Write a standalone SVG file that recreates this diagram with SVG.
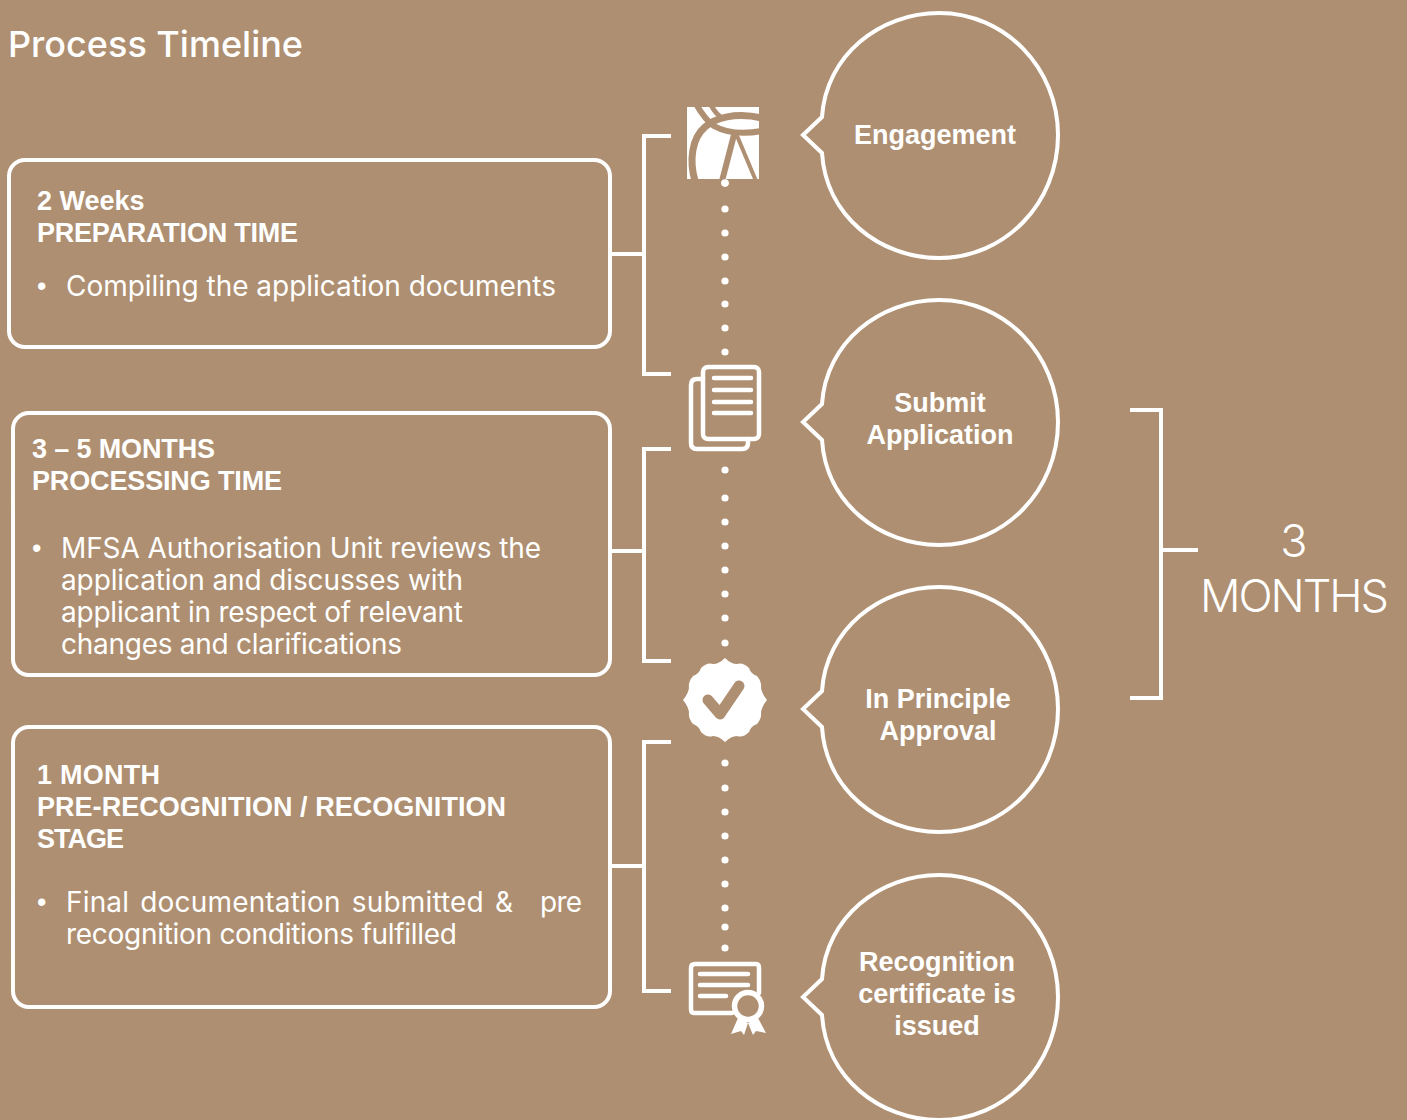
<svg xmlns="http://www.w3.org/2000/svg" width="1407" height="1120" viewBox="0 0 1407 1120">
<style>
text{font-family:"Liberation Sans",Arial,sans-serif;fill:#fff;font-size:27px}
.r{font-family:Inter,"Liberation Sans",Arial,sans-serif;font-size:28px;font-weight:400}
.b{font-weight:700}
.m{text-anchor:middle}
.box,.bub,.ln{fill:none;stroke:#fff;stroke-width:4}
.ic{fill:none;stroke:#fff;stroke-width:4.5;stroke-linecap:round;stroke-linejoin:round}
.dots circle{fill:#fff}
.big{font-family:Inter,"Liberation Sans",Arial,sans-serif;font-size:45px;font-weight:300}
</style>
<rect width="1407" height="1120" fill="#ae8f71"/>
<text class="r" x="8" y="57" textLength="295" style="font-size:36px;font-weight:500">Process Timeline</text>
<g id="connectors">
<path class="ln" d="M671 136H644V374H671M611 254H644"/>
<path class="ln" d="M671 449H644V661H671M611 551H644"/>
<path class="ln" d="M671 742H644V991H671M611 866H644"/>
<path class="ln" d="M1130 410H1161V698H1130M1161 550H1198"/>
<g class="dots">
<circle cx="725" cy="183" r="3.6"/><circle cx="725" cy="209" r="3.6"/><circle cx="725" cy="233" r="3.6"/><circle cx="725" cy="257" r="3.6"/><circle cx="725" cy="281" r="3.6"/><circle cx="725" cy="304" r="3.6"/><circle cx="725" cy="328" r="3.6"/><circle cx="725" cy="352" r="3.6"/>
<circle cx="725" cy="470" r="3.6"/><circle cx="725" cy="498" r="3.6"/><circle cx="725" cy="522" r="3.6"/><circle cx="725" cy="546" r="3.6"/><circle cx="725" cy="570" r="3.6"/><circle cx="725" cy="594" r="3.6"/><circle cx="725" cy="618" r="3.6"/><circle cx="725" cy="643" r="3.6"/>
<circle cx="725" cy="763" r="3.6"/><circle cx="725" cy="788" r="3.6"/><circle cx="725" cy="812" r="3.6"/><circle cx="725" cy="836" r="3.6"/><circle cx="725" cy="860" r="3.6"/><circle cx="725" cy="884" r="3.6"/><circle cx="725" cy="908" r="3.6"/><circle cx="725" cy="927" r="3.6"/><circle cx="725" cy="948" r="3.6"/>
</g>
</g>
<g id="box1"><rect class="box" x="9" y="160" width="601" height="187" rx="16"/>
<text class="b" x="37" y="210">2 Weeks</text><text class="b" x="37" y="242" textLength="261">PREPARATION TIME</text>
<text x="37" y="295">•</text><text class="r" x="66" y="296" textLength="490">Compiling the application documents</text></g>
<g id="box2"><rect class="box" x="13" y="413" width="597" height="262" rx="16"/>
<text class="b" x="32" y="458" textLength="183">3 – 5 MONTHS</text><text class="b" x="32" y="490" textLength="250">PROCESSING TIME</text>
<text x="32" y="557">•</text><text class="r" x="61" y="558" textLength="480">MFSA Authorisation Unit reviews the</text><text class="r" x="61" y="590" textLength="402">application and discusses with</text><text class="r" x="61" y="622" textLength="402">applicant in respect of relevant</text><text class="r" x="61" y="654" textLength="341">changes and clarifications</text></g>
<g id="box3"><rect class="box" x="13" y="727" width="597" height="280" rx="16"/>
<text class="b" x="37" y="784" textLength="123">1 MONTH</text><text class="b" x="37" y="816" textLength="469">PRE-RECOGNITION / RECOGNITION</text><text class="b" x="37" y="848" textLength="87">STAGE</text>
<text x="37" y="911">•</text><text class="r" x="66" y="912" textLength="447" style="word-spacing:3px">Final documentation submitted &amp;</text><text class="r" x="540" y="912" textLength="42">pre</text><text class="r" x="66" y="944" textLength="391">recognition conditions fulfilled</text></g>
<g id="icon-logo"><path fill="#fff" d="M687 107H759V179H687Z"/>
<g fill="none" stroke="#ae8f71"><path stroke-width="7" d="M695 181C689 160 692 138 705 127C715 118 735 112 762 118"/><path stroke-width="6" d="M696 104C703 116 708 122 714 126C728 134 745 134 762 131"/><path stroke-width="5" d="M711 105C714 111 718 116 724 119"/><path stroke-width="6" d="M735 131L722 181"/><path stroke-width="4" d="M735 131L756 181"/></g>
<circle cx="725" cy="183" r="3.8" fill="#fff"/></g>
<g id="icon-docs" class="ic"><rect x="703" y="367" width="56" height="72" rx="5"/><path d="M703 379H697Q691 379 691 385V443Q691 449 697 449H742Q748 449 748 443V439"/><path d="M714 378H751M714 390H751M714 402H751M714 413H751"/></g>
<g id="icon-check"><path fill="#fff" d="M725 658Q731 664 737 664Q743 662 749 668Q751 674 757 676Q762 682 761 688Q762 694 767 700Q762 706 761 712Q762 718 757 724Q751 726 749 732Q743 738 737 736Q731 736 725 742Q719 736 713 736Q707 738 701 732Q699 726 693 724Q688 718 689 712Q688 706 683 700Q688 694 689 688Q688 682 693 676Q699 674 701 668Q707 662 713 664Q719 664 725 658Z"/>
<path fill="none" stroke="#ae8f71" stroke-width="11" stroke-linecap="round" stroke-linejoin="round" d="M708 700L720 714L739 686"/></g>
<g id="icon-cert"><g class="ic"><path d="M732 1013H694Q691 1013 691 1009V968Q691 964 695 964H756Q759 964 759 968V993"/><path d="M700 974H748M700 985H748M700 996H726"/></g>
<path fill="#fff" d="M738 1018L731 1034L741 1031L744 1035L748 1023ZM758 1018L766 1033L756 1031L753 1035L748 1023Z"/>
<circle cx="748" cy="1006" r="13.5" fill="#ae8f71" stroke="#fff" stroke-width="5.5"/></g>
<g id="n1"><path class="bub" d="M822 117C826 55 880 13 939 13C1005 13 1058 68 1058 135C1058 203 1005 258 939 258C880 258 826 216 822 153L803 135Z"/><text class="b m" x="935" y="144">Engagement</text></g>
<g id="n2"><path class="bub" d="M822 404C826 342 880 300 939 300C1005 300 1058 355 1058 422C1058 490 1005 545 939 545C880 545 826 503 822 440L803 422Z"/><text class="b m" x="940" y="412">Submit</text><text class="b m" x="940" y="444">Application</text></g>
<g id="n3"><path class="bub" d="M822 691C826 629 880 587 939 587C1005 587 1058 642 1058 709C1058 777 1005 832 939 832C880 832 826 790 822 727L803 709Z"/><text class="b m" x="938" y="708">In Principle</text><text class="b m" x="938" y="740">Approval</text></g>
<g id="n4"><path class="bub" d="M822 979C826 917 880 875 939 875C1005 875 1058 930 1058 997C1058 1065 1005 1120 939 1120C880 1120 826 1078 822 1015L803 997Z"/><text class="b m" x="937" y="971">Recognition</text><text class="b m" x="937" y="1003">certificate is</text><text class="b m" x="937" y="1035">issued</text></g>
<g id="duration"><text class="big m" x="1294" y="557">3</text><text class="big" x="1200" y="612" textLength="189">MONTHS</text></g>
</svg>
